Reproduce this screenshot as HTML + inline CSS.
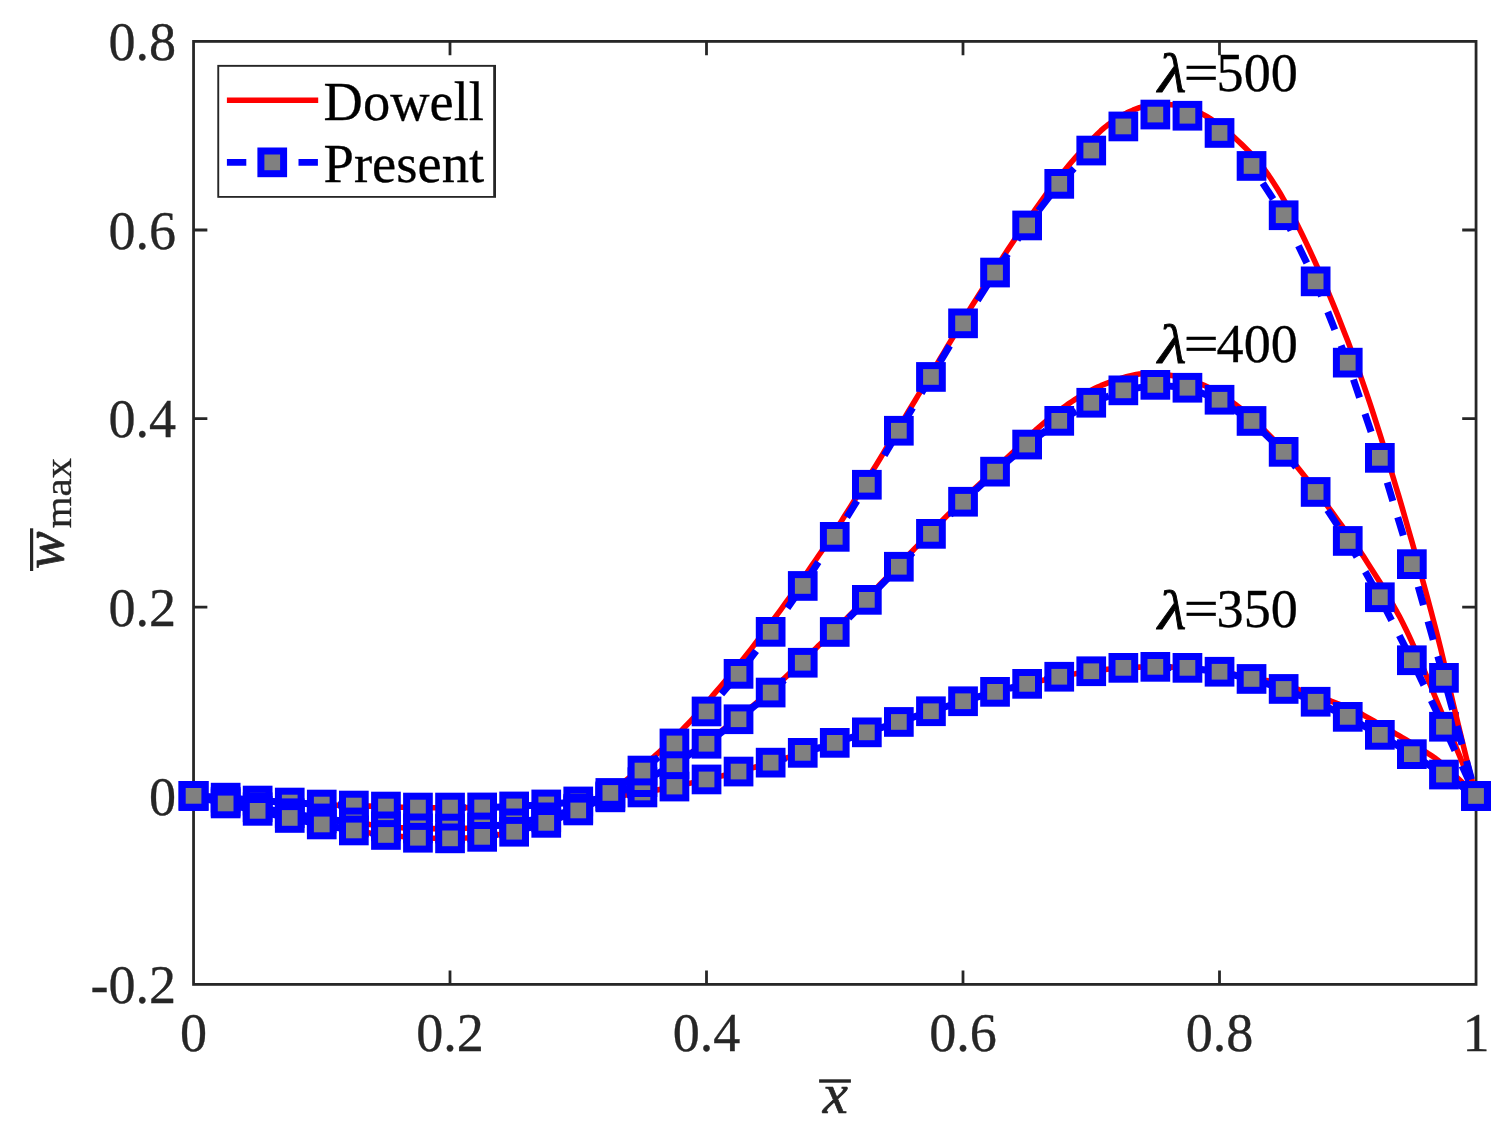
<!DOCTYPE html>
<html lang="en"><head><meta charset="utf-8"><title>Deflection shape comparison</title>
<style>html,body{margin:0;padding:0;background:#fff}body{width:1511px;height:1139px;overflow:hidden}svg{display:block}text{font-family:"Liberation Serif","Times New Roman",serif;font-size:55.56px}.tk{fill:#262626}.lb{fill:#000}.it{font-style:italic}</style></head><body>
<svg width="1511" height="1139" viewBox="0 0 1511 1139">
<rect width="1511" height="1139" fill="#fff"/>
<g stroke="#262626" stroke-width="2.78" fill="none" stroke-linecap="butt">
<rect x="193.55" y="41.4" width="1282.5" height="943"/>
<path d="M450.0 984.4 v-13.8 M450.0 41.4 v13.8 M193.55 795.8 h13.8 M1476.0 795.8 h-13.8 M706.5 984.4 v-13.8 M706.5 41.4 v13.8 M193.55 607.2 h13.8 M1476.0 607.2 h-13.8 M963.0 984.4 v-13.8 M963.0 41.4 v13.8 M193.55 418.6 h13.8 M1476.0 418.6 h-13.8 M1219.5 984.4 v-13.8 M1219.5 41.4 v13.8 M193.55 230.0 h13.8 M1476.0 230.0 h-13.8"/>
</g>
<g class="tk" stroke="#262626" stroke-width="0.3">
<text transform="translate(176.2 1003.2) scale(0.975 1)" text-anchor="end">-0.2</text>
<text transform="translate(176.2 814.6) scale(0.975 1)" text-anchor="end">0</text>
<text transform="translate(176.2 626.0) scale(0.975 1)" text-anchor="end">0.2</text>
<text transform="translate(176.2 437.4) scale(0.975 1)" text-anchor="end">0.4</text>
<text transform="translate(176.2 248.8) scale(0.975 1)" text-anchor="end">0.6</text>
<text transform="translate(176.2 60.2) scale(0.975 1)" text-anchor="end">0.8</text>
<text transform="translate(193.6 1050.6) scale(0.975 1)" text-anchor="middle">0</text>
<text transform="translate(450.0 1050.6) scale(0.975 1)" text-anchor="middle">0.2</text>
<text transform="translate(706.5 1050.6) scale(0.975 1)" text-anchor="middle">0.4</text>
<text transform="translate(963.0 1050.6) scale(0.975 1)" text-anchor="middle">0.6</text>
<text transform="translate(1219.5 1050.6) scale(0.975 1)" text-anchor="middle">0.8</text>
<text transform="translate(1476.0 1050.6) scale(0.975 1)" text-anchor="middle">1</text>
</g>
<polyline points="193.6,795.9 196.8,795.9 200.0,796.0 203.2,796.1 206.4,796.3 209.6,796.4 212.8,796.6 216.0,796.9 219.2,797.1 222.4,797.4 225.6,797.6 228.8,797.9 232.0,798.2 235.2,798.6 238.4,798.9 241.6,799.2 244.8,799.5 248.1,799.8 251.3,800.1 254.5,800.3 257.7,800.6 260.9,800.8 264.1,801.1 267.3,801.3 270.5,801.5 273.7,801.7 276.9,801.8 280.1,802.0 283.3,802.2 286.5,802.4 289.7,802.6 292.9,802.8 296.1,803.0 299.4,803.2 302.6,803.4 305.8,803.7 309.0,803.9 312.2,804.1 315.4,804.3 318.6,804.4 321.8,804.6 325.0,804.7 328.2,804.9 331.4,805.0 334.6,805.1 337.8,805.2 341.0,805.3 344.2,805.4 347.4,805.4 350.7,805.5 353.9,805.6 357.1,805.7 360.3,805.8 363.5,805.9 366.7,806.0 369.9,806.1 373.1,806.2 376.3,806.3 379.5,806.4 382.7,806.5 385.9,806.6 389.1,806.7 392.3,806.8 395.5,807.0 398.7,807.1 401.9,807.2 405.2,807.3 408.4,807.4 411.6,807.5 414.8,807.5 418.0,807.6 421.2,807.6 424.4,807.7 427.6,807.7 430.8,807.7 434.0,807.7 437.2,807.7 440.4,807.6 443.6,807.6 446.8,807.6 450.0,807.6 453.2,807.6 456.5,807.6 459.7,807.6 462.9,807.6 466.1,807.6 469.3,807.6 472.5,807.6 475.7,807.6 478.9,807.5 482.1,807.5 485.3,807.5 488.5,807.4 491.7,807.3 494.9,807.2 498.1,807.1 501.3,807.0 504.5,806.9 507.8,806.8 511.0,806.6 514.2,806.5 517.4,806.3 520.6,806.2 523.8,806.0 527.0,805.8 530.2,805.6 533.4,805.4 536.6,805.2 539.8,805.0 543.0,804.7 546.2,804.5 549.4,804.2 552.6,804.0 555.8,803.7 559.0,803.4 562.3,803.1 565.5,802.8 568.7,802.5 571.9,802.2 575.1,801.9 578.3,801.5 581.5,801.1 584.7,800.8 587.9,800.4 591.1,800.0 594.3,799.6 597.5,799.1 600.7,798.7 603.9,798.3 607.1,797.8 610.3,797.4 613.6,796.9 616.8,796.5 620.0,796.0 623.2,795.5 626.4,795.1 629.6,794.6 632.8,794.1 636.0,793.6 639.2,793.0 642.4,792.5 645.6,792.0 648.8,791.4 652.0,790.8 655.2,790.3 658.4,789.7 661.6,789.1 664.9,788.5 668.1,787.8 671.3,787.2 674.5,786.5 677.7,785.9 680.9,785.2 684.1,784.5 687.3,783.8 690.5,783.1 693.7,782.4 696.9,781.7 700.1,781.0 703.3,780.2 706.5,779.5 709.7,778.7 712.9,778.0 716.1,777.2 719.4,776.4 722.6,775.7 725.8,774.9 729.0,774.1 732.2,773.3 735.4,772.4 738.6,771.6 741.8,770.8 745.0,769.9 748.2,769.0 751.4,768.1 754.6,767.3 757.8,766.4 761.0,765.4 764.2,764.5 767.4,763.6 770.7,762.6 773.9,761.7 777.1,760.7 780.3,759.8 783.5,758.8 786.7,757.8 789.9,756.8 793.1,755.9 796.3,754.9 799.5,753.9 802.7,752.9 805.9,751.9 809.1,750.9 812.3,749.9 815.5,748.9 818.7,748.0 822.0,747.0 825.2,746.0 828.4,744.9 831.6,743.9 834.8,742.9 838.0,741.9 841.2,740.8 844.4,739.8 847.6,738.7 850.8,737.7 854.0,736.6 857.2,735.6 860.4,734.5 863.6,733.4 866.8,732.4 870.0,731.4 873.2,730.3 876.5,729.3 879.7,728.3 882.9,727.2 886.1,726.2 889.3,725.1 892.5,724.1 895.7,723.1 898.9,722.0 902.1,720.9 905.3,719.9 908.5,718.8 911.7,717.7 914.9,716.6 918.1,715.6 921.3,714.5 924.5,713.4 927.8,712.3 931.0,711.3 934.2,710.3 937.4,709.2 940.6,708.2 943.8,707.2 947.0,706.2 950.2,705.2 953.4,704.2 956.6,703.3 959.8,702.3 963.0,701.3 966.2,700.3 969.4,699.4 972.6,698.4 975.8,697.4 979.1,696.5 982.3,695.5 985.5,694.6 988.7,693.7 991.9,692.8 995.1,691.9 998.3,691.0 1001.5,690.2 1004.7,689.4 1007.9,688.6 1011.1,687.8 1014.3,687.0 1017.5,686.2 1020.7,685.4 1023.9,684.7 1027.1,683.9 1030.3,683.1 1033.6,682.4 1036.8,681.6 1040.0,680.9 1043.2,680.2 1046.4,679.5 1049.6,678.8 1052.8,678.1 1056.0,677.4 1059.2,676.8 1062.4,676.1 1065.6,675.5 1068.8,674.9 1072.0,674.3 1075.2,673.8 1078.4,673.2 1081.6,672.7 1084.9,672.2 1088.1,671.8 1091.3,671.3 1094.5,670.9 1097.7,670.4 1100.9,670.0 1104.1,669.7 1107.3,669.3 1110.5,669.0 1113.7,668.7 1116.9,668.4 1120.1,668.1 1123.3,667.9 1126.5,667.7 1129.7,667.5 1132.9,667.4 1136.2,667.2 1139.4,667.1 1142.6,667.0 1145.8,667.0 1149.0,666.9 1152.2,666.9 1155.4,666.9 1158.6,666.9 1161.8,666.9 1165.0,667.0 1168.2,667.0 1171.4,667.1 1174.6,667.2 1177.8,667.4 1181.0,667.5 1184.2,667.7 1187.4,667.9 1190.7,668.1 1193.9,668.4 1197.1,668.7 1200.3,669.0 1203.5,669.4 1206.7,669.8 1209.9,670.2 1213.1,670.7 1216.3,671.2 1219.5,671.8 1222.7,672.3 1225.9,672.9 1229.1,673.4 1232.3,673.9 1235.5,674.5 1238.7,675.0 1242.0,675.6 1245.2,676.2 1248.4,676.8 1251.6,677.4 1254.8,678.0 1258.0,678.7 1261.2,679.3 1264.4,680.1 1267.6,680.8 1270.8,681.6 1274.0,682.5 1277.2,683.3 1280.4,684.2 1283.6,685.1 1286.8,686.0 1290.0,687.0 1293.3,687.9 1296.5,688.9 1299.7,690.0 1302.9,691.0 1306.1,692.1 1309.3,693.2 1312.5,694.3 1315.7,695.4 1318.9,696.6 1322.1,697.7 1325.3,698.9 1328.5,700.1 1331.7,701.4 1334.9,702.6 1338.1,703.8 1341.3,705.1 1344.5,706.3 1347.8,707.6 1351.0,709.0 1354.2,710.4 1357.4,711.9 1360.6,713.5 1363.8,715.3 1367.0,717.1 1370.2,718.9 1373.4,720.7 1376.6,722.6 1379.8,724.4 1383.0,726.3 1386.2,728.2 1389.4,730.0 1392.6,731.9 1395.8,733.8 1399.1,735.7 1402.3,737.6 1405.5,739.5 1408.7,741.4 1411.9,743.4 1415.1,745.3 1418.3,747.3 1421.5,749.3 1424.7,751.3 1427.9,753.4 1431.1,755.4 1434.3,757.5 1437.5,759.9 1440.7,762.6 1443.9,765.4 1447.1,768.4 1450.4,771.4 1453.6,774.5 1456.8,777.4 1460.0,780.4 1463.2,783.4 1466.4,786.5 1469.6,789.6 1472.8,792.8 1476.0,796.0" fill="none" stroke="#f00" stroke-width="5.56" stroke-linejoin="round"/>
<polyline points="193.6,795.9 225.6,797.6 257.7,800.6 289.7,802.6 321.8,804.6 353.9,805.6 385.9,806.6 418.0,807.6 450.0,807.6 482.1,807.5 514.2,806.5 546.2,804.5 578.3,801.5 610.3,797.4 642.4,792.5 674.5,786.5 706.5,779.5 738.6,771.6 770.7,762.6 802.7,752.9 834.8,742.9 866.8,732.4 898.9,722.0 931.0,711.3 963.0,701.3 995.1,691.9 1027.1,683.9 1059.2,676.8 1091.3,671.3 1123.3,667.9 1155.4,666.9 1187.4,667.9 1219.5,671.8 1251.6,679.0 1283.6,689.0 1315.7,701.7 1347.8,716.9 1379.8,734.9 1411.9,754.1 1443.9,774.6 1476.0,796.0" fill="none" stroke="#00f" stroke-width="7.0" stroke-dasharray="19.2 16.97" stroke-linejoin="round"/>
<g fill="#808080" stroke="#00f" stroke-width="7.0">
<rect x="182.2" y="784.5" width="22.7" height="22.7"/>
<rect x="214.3" y="786.3" width="22.7" height="22.7"/>
<rect x="246.3" y="789.2" width="22.7" height="22.7"/>
<rect x="278.4" y="791.2" width="22.7" height="22.7"/>
<rect x="310.4" y="793.2" width="22.7" height="22.7"/>
<rect x="342.5" y="794.2" width="22.7" height="22.7"/>
<rect x="374.6" y="795.2" width="22.7" height="22.7"/>
<rect x="406.6" y="796.2" width="22.7" height="22.7"/>
<rect x="438.7" y="796.2" width="22.7" height="22.7"/>
<rect x="470.8" y="796.1" width="22.7" height="22.7"/>
<rect x="502.8" y="795.1" width="22.7" height="22.7"/>
<rect x="534.9" y="793.1" width="22.7" height="22.7"/>
<rect x="566.9" y="790.1" width="22.7" height="22.7"/>
<rect x="599.0" y="786.0" width="22.7" height="22.7"/>
<rect x="631.1" y="781.1" width="22.7" height="22.7"/>
<rect x="663.1" y="775.2" width="22.7" height="22.7"/>
<rect x="695.2" y="768.1" width="22.7" height="22.7"/>
<rect x="727.2" y="760.2" width="22.7" height="22.7"/>
<rect x="759.3" y="751.3" width="22.7" height="22.7"/>
<rect x="791.4" y="741.5" width="22.7" height="22.7"/>
<rect x="823.4" y="731.5" width="22.7" height="22.7"/>
<rect x="855.5" y="721.0" width="22.7" height="22.7"/>
<rect x="887.5" y="710.6" width="22.7" height="22.7"/>
<rect x="919.6" y="699.9" width="22.7" height="22.7"/>
<rect x="951.7" y="689.9" width="22.7" height="22.7"/>
<rect x="983.7" y="680.5" width="22.7" height="22.7"/>
<rect x="1015.8" y="672.5" width="22.7" height="22.7"/>
<rect x="1047.9" y="665.4" width="22.7" height="22.7"/>
<rect x="1079.9" y="659.9" width="22.7" height="22.7"/>
<rect x="1112.0" y="656.5" width="22.7" height="22.7"/>
<rect x="1144.0" y="655.5" width="22.7" height="22.7"/>
<rect x="1176.1" y="656.5" width="22.7" height="22.7"/>
<rect x="1208.2" y="660.4" width="22.7" height="22.7"/>
<rect x="1240.2" y="667.6" width="22.7" height="22.7"/>
<rect x="1272.3" y="677.6" width="22.7" height="22.7"/>
<rect x="1304.3" y="690.4" width="22.7" height="22.7"/>
<rect x="1336.4" y="705.5" width="22.7" height="22.7"/>
<rect x="1368.5" y="723.5" width="22.7" height="22.7"/>
<rect x="1400.5" y="742.8" width="22.7" height="22.7"/>
<rect x="1432.6" y="763.2" width="22.7" height="22.7"/>
<rect x="1464.7" y="784.6" width="22.7" height="22.7"/>
</g>
<polyline points="193.6,795.9 196.8,796.5 200.0,797.1 203.2,797.7 206.4,798.3 209.6,798.9 212.8,799.5 216.0,800.0 219.2,800.6 222.4,801.1 225.6,801.7 228.8,802.3 232.0,802.8 235.2,803.4 238.4,803.9 241.6,804.5 244.8,805.0 248.1,805.6 251.3,806.1 254.5,806.7 257.7,807.3 260.9,807.9 264.1,808.5 267.3,809.1 270.5,809.7 273.7,810.3 276.9,810.9 280.1,811.5 283.3,812.1 286.5,812.7 289.7,813.3 292.9,813.9 296.1,814.4 299.4,815.0 302.6,815.5 305.8,816.1 309.0,816.6 312.2,817.1 315.4,817.6 318.6,818.0 321.8,818.5 325.0,818.9 328.2,819.4 331.4,819.8 334.6,820.2 337.8,820.6 341.0,820.9 344.2,821.3 347.4,821.7 350.7,822.1 353.9,822.5 357.1,822.9 360.3,823.3 363.5,823.7 366.7,824.1 369.9,824.6 373.1,825.0 376.3,825.3 379.5,825.7 382.7,826.1 385.9,826.4 389.1,826.7 392.3,827.0 395.5,827.2 398.7,827.5 401.9,827.7 405.2,827.9 408.4,828.0 411.6,828.2 414.8,828.3 418.0,828.4 421.2,828.5 424.4,828.5 427.6,828.6 430.8,828.6 434.0,828.6 437.2,828.7 440.4,828.7 443.6,828.6 446.8,828.6 450.0,828.6 453.2,828.6 456.5,828.5 459.7,828.5 462.9,828.4 466.1,828.3 469.3,828.2 472.5,828.1 475.7,827.9 478.9,827.7 482.1,827.5 485.3,827.2 488.5,826.9 491.7,826.6 494.9,826.2 498.1,825.8 501.3,825.3 504.5,824.9 507.8,824.4 511.0,823.9 514.2,823.4 517.4,822.9 520.6,822.3 523.8,821.8 527.0,821.2 530.2,820.6 533.4,820.0 536.6,819.4 539.8,818.7 543.0,818.1 546.2,817.4 549.4,816.7 552.6,816.0 555.8,815.2 559.0,814.4 562.3,813.6 565.5,812.7 568.7,811.8 571.9,810.8 575.1,809.8 578.3,808.8 581.5,807.7 584.7,806.6 587.9,805.4 591.1,804.1 594.3,802.9 597.5,801.6 600.7,800.3 603.9,799.0 607.1,797.6 610.3,796.3 613.6,795.0 616.8,793.6 620.0,792.3 623.2,790.9 626.4,789.5 629.6,788.1 632.8,786.7 636.0,785.2 639.2,783.7 642.4,782.1 645.6,780.5 648.8,778.8 652.0,777.0 655.2,775.2 658.4,773.3 661.6,771.4 664.9,769.5 668.1,767.5 671.3,765.5 674.5,763.5 677.7,761.5 680.9,759.4 684.1,757.3 687.3,755.2 690.5,753.1 693.7,750.9 696.9,748.7 700.1,746.5 703.3,744.3 706.5,742.0 709.7,739.6 712.9,737.2 716.1,734.8 719.4,732.4 722.6,729.9 725.8,727.5 729.0,725.0 732.2,722.4 735.4,719.9 738.6,717.3 741.8,714.7 745.0,712.2 748.2,709.6 751.4,707.0 754.6,704.3 757.8,701.7 761.0,699.0 764.2,696.3 767.4,693.5 770.7,690.7 773.9,687.9 777.1,685.0 780.3,682.0 783.5,679.1 786.7,676.1 789.9,673.1 793.1,670.1 796.3,667.0 799.5,664.0 802.7,660.9 805.9,657.9 809.1,654.8 812.3,651.7 815.5,648.7 818.7,645.6 822.0,642.5 825.2,639.4 828.4,636.4 831.6,633.2 834.8,630.1 838.0,627.0 841.2,623.8 844.4,620.6 847.6,617.4 850.8,614.2 854.0,611.0 857.2,607.8 860.4,604.5 863.6,601.3 866.8,598.0 870.0,594.7 873.2,591.4 876.5,588.1 879.7,584.8 882.9,581.5 886.1,578.2 889.3,574.9 892.5,571.6 895.7,568.2 898.9,564.9 902.1,561.6 905.3,558.3 908.5,555.0 911.7,551.7 914.9,548.4 918.1,545.1 921.3,541.8 924.5,538.6 927.8,535.3 931.0,532.0 934.2,528.8 937.4,525.5 940.6,522.3 943.8,519.0 947.0,515.8 950.2,512.6 953.4,509.4 956.6,506.2 959.8,503.1 963.0,499.9 966.2,496.8 969.4,493.7 972.6,490.6 975.8,487.6 979.1,484.5 982.3,481.5 985.5,478.4 988.7,475.4 991.9,472.3 995.1,469.2 998.3,466.1 1001.5,463.1 1004.7,460.0 1007.9,457.0 1011.1,454.0 1014.3,451.0 1017.5,447.9 1020.7,444.7 1023.9,441.5 1027.1,438.3 1030.3,435.2 1033.6,432.1 1036.8,429.1 1040.0,426.3 1043.2,423.5 1046.4,420.8 1049.6,418.2 1052.8,415.6 1056.0,413.0 1059.2,410.6 1062.4,408.2 1065.6,405.9 1068.8,403.6 1072.0,401.5 1075.2,399.4 1078.4,397.4 1081.6,395.5 1084.9,393.6 1088.1,391.9 1091.3,390.2 1094.5,388.6 1097.7,387.1 1100.9,385.7 1104.1,384.4 1107.3,383.1 1110.5,381.9 1113.7,380.7 1116.9,379.6 1120.1,378.6 1123.3,377.6 1126.5,376.7 1129.7,375.9 1132.9,375.2 1136.2,374.5 1139.4,374.0 1142.6,373.7 1145.8,373.7 1149.0,373.7 1152.2,373.9 1155.4,374.0 1158.6,374.2 1161.8,374.4 1165.0,374.7 1168.2,375.1 1171.4,375.6 1174.6,376.1 1177.8,376.8 1181.0,377.5 1184.2,378.3 1187.4,379.2 1190.7,380.2 1193.9,381.3 1197.1,382.5 1200.3,383.7 1203.5,385.1 1206.7,386.6 1209.9,388.2 1213.1,389.9 1216.3,391.7 1219.5,393.6 1222.7,395.6 1225.9,397.7 1229.1,399.9 1232.3,402.1 1235.5,404.5 1238.7,406.9 1242.0,409.5 1245.2,412.2 1248.4,415.0 1251.6,417.9 1254.8,420.8 1258.0,423.9 1261.2,427.0 1264.4,430.2 1267.6,433.4 1270.8,436.7 1274.0,440.0 1277.2,443.5 1280.4,447.0 1283.6,450.7 1286.8,454.4 1290.0,458.1 1293.3,462.0 1296.5,465.9 1299.7,469.9 1302.9,473.9 1306.1,477.9 1309.3,481.9 1312.5,486.0 1315.7,490.2 1318.9,494.3 1322.1,498.6 1325.3,502.9 1328.5,507.3 1331.7,511.7 1334.9,516.2 1338.1,520.6 1341.3,525.0 1344.5,529.4 1347.8,533.8 1351.0,538.2 1354.2,542.7 1357.4,547.3 1360.6,552.1 1363.8,556.9 1367.0,561.9 1370.2,566.9 1373.4,571.9 1376.6,577.0 1379.8,582.1 1383.0,587.4 1386.2,592.8 1389.4,598.3 1392.6,604.0 1395.8,609.8 1399.1,615.8 1402.3,622.0 1405.5,628.4 1408.7,635.1 1411.9,642.1 1415.1,649.3 1418.3,656.7 1421.5,664.2 1424.7,671.7 1427.9,679.2 1431.1,686.8 1434.3,694.7 1437.5,702.5 1440.7,710.2 1443.9,718.0 1447.1,725.7 1450.4,733.5 1453.6,741.3 1456.8,749.1 1460.0,756.9 1463.2,764.7 1466.4,772.6 1469.6,780.4 1472.8,788.2 1476.0,796.0" fill="none" stroke="#f00" stroke-width="5.56" stroke-linejoin="round"/>
<polyline points="193.6,795.9 225.6,801.7 257.7,807.3 289.7,813.3 321.8,818.5 353.9,822.5 385.9,826.4 418.0,828.4 450.0,828.6 482.1,827.5 514.2,823.4 546.2,817.4 578.3,808.8 610.3,796.3 642.4,782.1 674.5,764.2 706.5,743.7 738.6,719.2 770.7,692.6 802.7,662.8 834.8,632.0 866.8,599.9 898.9,566.8 931.0,533.9 963.0,501.8 995.1,471.7 1027.1,444.6 1059.2,420.9 1091.3,402.8 1123.3,390.4 1155.4,384.9 1187.4,387.8 1219.5,399.8 1251.6,421.0 1283.6,451.9 1315.7,492.0 1347.8,541.0 1379.8,597.3 1411.9,660.2 1443.9,726.8 1476.0,796.0" fill="none" stroke="#00f" stroke-width="7.0" stroke-dasharray="19.2 16.97" stroke-linejoin="round"/>
<g fill="#808080" stroke="#00f" stroke-width="7.0">
<rect x="182.2" y="784.5" width="22.7" height="22.7"/>
<rect x="214.3" y="790.4" width="22.7" height="22.7"/>
<rect x="246.3" y="795.9" width="22.7" height="22.7"/>
<rect x="278.4" y="801.9" width="22.7" height="22.7"/>
<rect x="310.4" y="807.1" width="22.7" height="22.7"/>
<rect x="342.5" y="811.1" width="22.7" height="22.7"/>
<rect x="374.6" y="815.0" width="22.7" height="22.7"/>
<rect x="406.6" y="817.0" width="22.7" height="22.7"/>
<rect x="438.7" y="817.2" width="22.7" height="22.7"/>
<rect x="470.8" y="816.1" width="22.7" height="22.7"/>
<rect x="502.8" y="812.0" width="22.7" height="22.7"/>
<rect x="534.9" y="806.0" width="22.7" height="22.7"/>
<rect x="566.9" y="797.4" width="22.7" height="22.7"/>
<rect x="599.0" y="784.9" width="22.7" height="22.7"/>
<rect x="631.1" y="770.8" width="22.7" height="22.7"/>
<rect x="663.1" y="752.9" width="22.7" height="22.7"/>
<rect x="695.2" y="732.4" width="22.7" height="22.7"/>
<rect x="727.2" y="707.9" width="22.7" height="22.7"/>
<rect x="759.3" y="681.2" width="22.7" height="22.7"/>
<rect x="791.4" y="651.4" width="22.7" height="22.7"/>
<rect x="823.4" y="620.6" width="22.7" height="22.7"/>
<rect x="855.5" y="588.5" width="22.7" height="22.7"/>
<rect x="887.5" y="555.4" width="22.7" height="22.7"/>
<rect x="919.6" y="522.5" width="22.7" height="22.7"/>
<rect x="951.7" y="490.4" width="22.7" height="22.7"/>
<rect x="983.7" y="460.3" width="22.7" height="22.7"/>
<rect x="1015.8" y="433.2" width="22.7" height="22.7"/>
<rect x="1047.9" y="409.5" width="22.7" height="22.7"/>
<rect x="1079.9" y="391.4" width="22.7" height="22.7"/>
<rect x="1112.0" y="379.0" width="22.7" height="22.7"/>
<rect x="1144.0" y="373.5" width="22.7" height="22.7"/>
<rect x="1176.1" y="376.4" width="22.7" height="22.7"/>
<rect x="1208.2" y="388.4" width="22.7" height="22.7"/>
<rect x="1240.2" y="409.6" width="22.7" height="22.7"/>
<rect x="1272.3" y="440.5" width="22.7" height="22.7"/>
<rect x="1304.3" y="480.6" width="22.7" height="22.7"/>
<rect x="1336.4" y="529.6" width="22.7" height="22.7"/>
<rect x="1368.5" y="585.9" width="22.7" height="22.7"/>
<rect x="1400.5" y="648.9" width="22.7" height="22.7"/>
<rect x="1432.6" y="715.4" width="22.7" height="22.7"/>
<rect x="1464.7" y="784.6" width="22.7" height="22.7"/>
</g>
<polyline points="193.6,795.9 196.8,796.7 200.0,797.5 203.2,798.2 206.4,799.0 209.6,799.7 212.8,800.5 216.0,801.3 219.2,802.0 222.4,802.8 225.6,803.5 228.8,804.2 232.0,805.0 235.2,805.7 238.4,806.5 241.6,807.2 244.8,807.9 248.1,808.7 251.3,809.4 254.5,810.1 257.7,810.9 260.9,811.6 264.1,812.3 267.3,813.0 270.5,813.8 273.7,814.5 276.9,815.2 280.1,815.9 283.3,816.6 286.5,817.3 289.7,818.0 292.9,818.7 296.1,819.3 299.4,820.0 302.6,820.7 305.8,821.3 309.0,822.0 312.2,822.6 315.4,823.2 318.6,823.9 321.8,824.5 325.0,825.1 328.2,825.8 331.4,826.4 334.6,827.0 337.8,827.6 341.0,828.2 344.2,828.8 347.4,829.4 350.7,830.0 353.9,830.5 357.1,831.0 360.3,831.5 363.5,832.0 366.7,832.5 369.9,833.0 373.1,833.4 376.3,833.8 379.5,834.2 382.7,834.6 385.9,835.0 389.1,835.4 392.3,835.7 395.5,836.0 398.7,836.3 401.9,836.6 405.2,836.9 408.4,837.1 411.6,837.3 414.8,837.5 418.0,837.7 421.2,837.9 424.4,838.0 427.6,838.1 430.8,838.2 434.0,838.3 437.2,838.4 440.4,838.4 443.6,838.4 446.8,838.4 450.0,838.4 453.2,838.4 456.5,838.3 459.7,838.2 462.9,838.1 466.1,838.0 469.3,837.9 472.5,837.7 475.7,837.4 478.9,837.2 482.1,836.9 485.3,836.6 488.5,836.2 491.7,835.8 494.9,835.3 498.1,834.8 501.3,834.3 504.5,833.7 507.8,833.1 511.0,832.5 514.2,831.8 517.4,831.1 520.6,830.3 523.8,829.5 527.0,828.7 530.2,827.8 533.4,826.9 536.6,825.9 539.8,824.9 543.0,823.9 546.2,822.9 549.4,821.8 552.6,820.7 555.8,819.6 559.0,818.4 562.3,817.2 565.5,816.0 568.7,814.7 571.9,813.3 575.1,812.0 578.3,810.5 581.5,809.0 584.7,807.4 587.9,805.7 591.1,803.9 594.3,802.0 597.5,800.1 600.7,798.1 603.9,796.1 607.1,793.9 610.3,791.7 613.6,789.5 616.8,787.2 620.0,784.8 623.2,782.4 626.4,779.9 629.6,777.4 632.8,774.8 636.0,772.2 639.2,769.5 642.4,766.8 645.6,764.1 648.8,761.3 652.0,758.5 655.2,755.6 658.4,752.7 661.6,749.8 664.9,746.8 668.1,743.7 671.3,740.7 674.5,737.5 677.7,734.3 680.9,731.1 684.1,727.8 687.3,724.5 690.5,721.1 693.7,717.6 696.9,714.1 700.1,710.4 703.3,706.7 706.5,702.9 709.7,699.2 712.9,695.4 716.1,691.6 719.4,687.8 722.6,684.1 725.8,680.3 729.0,676.5 732.2,672.6 735.4,668.7 738.6,664.8 741.8,660.8 745.0,656.8 748.2,652.7 751.4,648.6 754.6,644.4 757.8,640.3 761.0,636.1 764.2,631.8 767.4,627.6 770.7,623.3 773.9,619.0 777.1,614.7 780.3,610.3 783.5,605.9 786.7,601.5 789.9,597.0 793.1,592.5 796.3,588.0 799.5,583.4 802.7,578.9 805.9,574.3 809.1,569.6 812.3,564.9 815.5,560.2 818.7,555.5 822.0,550.7 825.2,545.9 828.4,541.1 831.6,536.2 834.8,531.3 838.0,526.3 841.2,521.4 844.4,516.3 847.6,511.3 850.8,506.2 854.0,501.0 857.2,495.9 860.4,490.7 863.6,485.5 866.8,480.3 870.0,475.0 873.2,469.8 876.5,464.5 879.7,459.2 882.9,453.8 886.1,448.5 889.3,443.2 892.5,437.9 895.7,432.5 898.9,427.2 902.1,421.9 905.3,416.6 908.5,411.3 911.7,406.0 914.9,400.7 918.1,395.4 921.3,390.0 924.5,384.7 927.8,379.4 931.0,374.0 934.2,368.7 937.4,363.3 940.6,357.9 943.8,352.6 947.0,347.2 950.2,341.8 953.4,336.5 956.6,331.1 959.8,325.8 963.0,320.5 966.2,315.3 969.4,310.0 972.6,304.8 975.8,299.7 979.1,294.5 982.3,289.4 985.5,284.3 988.7,279.3 991.9,274.3 995.1,269.3 998.3,264.3 1001.5,259.4 1004.7,254.5 1007.9,249.6 1011.1,244.8 1014.3,240.0 1017.5,235.2 1020.7,230.5 1023.9,225.8 1027.1,221.1 1030.3,216.5 1033.6,211.9 1036.8,207.3 1040.0,202.8 1043.2,198.4 1046.4,194.0 1049.6,189.6 1052.8,185.4 1056.0,181.2 1059.2,177.1 1062.4,173.1 1065.6,169.2 1068.8,165.3 1072.0,161.5 1075.2,157.9 1078.4,154.3 1081.6,150.8 1084.9,147.2 1088.1,143.7 1091.3,140.3 1094.5,136.9 1097.7,133.7 1100.9,130.7 1104.1,127.9 1107.3,125.3 1110.5,123.0 1113.7,120.7 1116.9,118.6 1120.1,116.6 1123.3,114.8 1126.5,113.1 1129.7,111.6 1132.9,110.2 1136.2,108.9 1139.4,107.7 1142.6,106.8 1145.8,106.0 1149.0,105.4 1152.2,104.9 1155.4,104.7 1158.6,104.5 1161.8,104.4 1165.0,104.5 1168.2,104.6 1171.4,104.8 1174.6,105.1 1177.8,105.6 1181.0,106.2 1184.2,106.9 1187.4,107.9 1190.7,108.9 1193.9,110.2 1197.1,111.5 1200.3,113.1 1203.5,114.7 1206.7,116.5 1209.9,118.4 1213.1,120.5 1216.3,122.6 1219.5,124.9 1222.7,127.4 1225.9,129.9 1229.1,132.6 1232.3,135.5 1235.5,138.5 1238.7,141.5 1242.0,144.6 1245.2,147.7 1248.4,150.9 1251.6,154.2 1254.8,157.6 1258.0,161.3 1261.2,165.2 1264.4,169.3 1267.6,173.8 1270.8,178.5 1274.0,183.4 1277.2,188.5 1280.4,193.8 1283.6,199.3 1286.8,204.9 1290.0,210.8 1293.3,216.8 1296.5,223.0 1299.7,229.4 1302.9,235.9 1306.1,242.6 1309.3,249.4 1312.5,256.4 1315.7,263.4 1318.9,270.6 1322.1,277.9 1325.3,285.4 1328.5,292.9 1331.7,300.6 1334.9,308.4 1338.1,316.3 1341.3,324.4 1344.5,332.7 1347.8,341.0 1351.0,349.6 1354.2,358.3 1357.4,367.1 1360.6,376.2 1363.8,385.4 1367.0,394.7 1370.2,404.2 1373.4,413.9 1376.6,423.8 1379.8,433.9 1383.0,444.1 1386.2,454.4 1389.4,464.9 1392.6,475.5 1395.8,486.2 1399.1,497.1 1402.3,508.1 1405.5,519.2 1408.7,530.4 1411.9,541.6 1415.1,553.0 1418.3,564.5 1421.5,576.0 1424.7,587.7 1427.9,599.5 1431.1,611.4 1434.3,623.6 1437.5,636.0 1440.7,648.6 1443.9,662.2 1447.1,676.8 1450.4,691.5 1453.6,705.4 1456.8,718.7 1460.0,732.0 1463.2,745.2 1466.4,758.2 1469.6,771.1 1472.8,783.7 1476.0,796.0" fill="none" stroke="#f00" stroke-width="5.56" stroke-linejoin="round"/>
<polyline points="193.6,795.9 225.6,803.5 257.7,810.9 289.7,818.0 321.8,824.5 353.9,830.5 385.9,835.0 418.0,837.7 450.0,838.4 482.1,836.9 514.2,831.8 546.2,822.9 578.3,810.5 610.3,793.0 642.4,770.6 674.5,743.5 706.5,711.5 738.6,673.9 770.7,631.9 802.7,586.0 834.8,536.9 866.8,484.8 898.9,430.8 931.0,377.0 963.0,323.4 995.1,272.6 1027.1,225.4 1059.2,183.8 1091.3,150.5 1123.3,126.4 1155.4,114.5 1187.4,115.7 1219.5,132.9 1251.6,165.9 1283.6,215.2 1315.7,281.4 1347.8,362.6 1379.8,457.9 1411.9,564.1 1443.9,677.9 1476.0,796.0" fill="none" stroke="#00f" stroke-width="7.0" stroke-dasharray="19.2 16.97" stroke-linejoin="round"/>
<g fill="#808080" stroke="#00f" stroke-width="7.0">
<rect x="182.2" y="784.5" width="22.7" height="22.7"/>
<rect x="214.3" y="792.1" width="22.7" height="22.7"/>
<rect x="246.3" y="799.5" width="22.7" height="22.7"/>
<rect x="278.4" y="806.6" width="22.7" height="22.7"/>
<rect x="310.4" y="813.1" width="22.7" height="22.7"/>
<rect x="342.5" y="819.1" width="22.7" height="22.7"/>
<rect x="374.6" y="823.6" width="22.7" height="22.7"/>
<rect x="406.6" y="826.4" width="22.7" height="22.7"/>
<rect x="438.7" y="827.0" width="22.7" height="22.7"/>
<rect x="470.8" y="825.5" width="22.7" height="22.7"/>
<rect x="502.8" y="820.4" width="22.7" height="22.7"/>
<rect x="534.9" y="811.5" width="22.7" height="22.7"/>
<rect x="566.9" y="799.1" width="22.7" height="22.7"/>
<rect x="599.0" y="781.6" width="22.7" height="22.7"/>
<rect x="631.1" y="759.2" width="22.7" height="22.7"/>
<rect x="663.1" y="732.1" width="22.7" height="22.7"/>
<rect x="695.2" y="700.1" width="22.7" height="22.7"/>
<rect x="727.2" y="662.5" width="22.7" height="22.7"/>
<rect x="759.3" y="620.5" width="22.7" height="22.7"/>
<rect x="791.4" y="574.6" width="22.7" height="22.7"/>
<rect x="823.4" y="525.5" width="22.7" height="22.7"/>
<rect x="855.5" y="473.4" width="22.7" height="22.7"/>
<rect x="887.5" y="419.4" width="22.7" height="22.7"/>
<rect x="919.6" y="365.6" width="22.7" height="22.7"/>
<rect x="951.7" y="312.0" width="22.7" height="22.7"/>
<rect x="983.7" y="261.2" width="22.7" height="22.7"/>
<rect x="1015.8" y="214.1" width="22.7" height="22.7"/>
<rect x="1047.9" y="172.5" width="22.7" height="22.7"/>
<rect x="1079.9" y="139.2" width="22.7" height="22.7"/>
<rect x="1112.0" y="115.1" width="22.7" height="22.7"/>
<rect x="1144.0" y="103.2" width="22.7" height="22.7"/>
<rect x="1176.1" y="104.4" width="22.7" height="22.7"/>
<rect x="1208.2" y="121.6" width="22.7" height="22.7"/>
<rect x="1240.2" y="154.6" width="22.7" height="22.7"/>
<rect x="1272.3" y="203.9" width="22.7" height="22.7"/>
<rect x="1304.3" y="270.0" width="22.7" height="22.7"/>
<rect x="1336.4" y="351.3" width="22.7" height="22.7"/>
<rect x="1368.5" y="446.5" width="22.7" height="22.7"/>
<rect x="1400.5" y="552.8" width="22.7" height="22.7"/>
<rect x="1432.6" y="666.5" width="22.7" height="22.7"/>
<rect x="1464.7" y="784.6" width="22.7" height="22.7"/>
</g>
<g class="lb" stroke="#000" stroke-width="0.3">
<text transform="translate(1157.9 92.2) scale(1.18 1)" class="it" stroke-width="0.8">λ</text><text transform="translate(1183.7 91.0) scale(1.115 1)">=</text><text transform="translate(1216.6 91.0) scale(0.975 1)">500</text>
<text transform="translate(1157.9 362.8) scale(1.18 1)" class="it" stroke-width="0.8">λ</text><text transform="translate(1183.7 361.6) scale(1.115 1)">=</text><text transform="translate(1216.6 361.6) scale(0.975 1)">400</text>
<text transform="translate(1157.9 628.6) scale(1.18 1)" class="it" stroke-width="0.8">λ</text><text transform="translate(1183.7 627.4) scale(1.115 1)">=</text><text transform="translate(1216.6 627.4) scale(0.975 1)">350</text>
</g>
<rect x="217.3" y="64.9" width="278.7" height="132.9" fill="#262626"/><rect x="219.2" y="66.8" width="274" height="129.2" fill="#fff"/>
<path d="M226.9 100.3H318.2" stroke="#f00" stroke-width="5.56" fill="none"/>
<path d="M226.9 162.4H318.2" stroke="#00f" stroke-width="6.94" stroke-dasharray="19.4 52.2" fill="none"/>
<rect x="260.9" y="151.0" width="22.7" height="22.7" fill="#808080" stroke="#00f" stroke-width="7.0"/>
<g class="lb" stroke="#000" stroke-width="0.3"><text x="323.6" y="120.1" textLength="160.3" lengthAdjust="spacingAndGlyphs">Dowell</text><text x="323.6" y="182.1" textLength="160.6" lengthAdjust="spacingAndGlyphs">Present</text></g>
<g class="tk" stroke="#262626" stroke-width="0.7">
<text x="835.2" y="1113" text-anchor="middle" class="it" style="font-size:56.5px">x</text>
<rect x="819.1" y="1079.3" width="31.8" height="3.4" stroke="none"/>
<g transform="translate(63.2 567.5) rotate(-90)">
<text x="-1.5" y="0" class="it" style="font-size:56.5px">w</text>
<text transform="translate(39.2 7.9) scale(1.104 1)" style="font-size:37px" stroke-width="0.3">max</text>
<rect x="-3.5" y="-33.2" width="42.7" height="3.2" stroke="none"/>
</g></g>
</svg></body></html>
